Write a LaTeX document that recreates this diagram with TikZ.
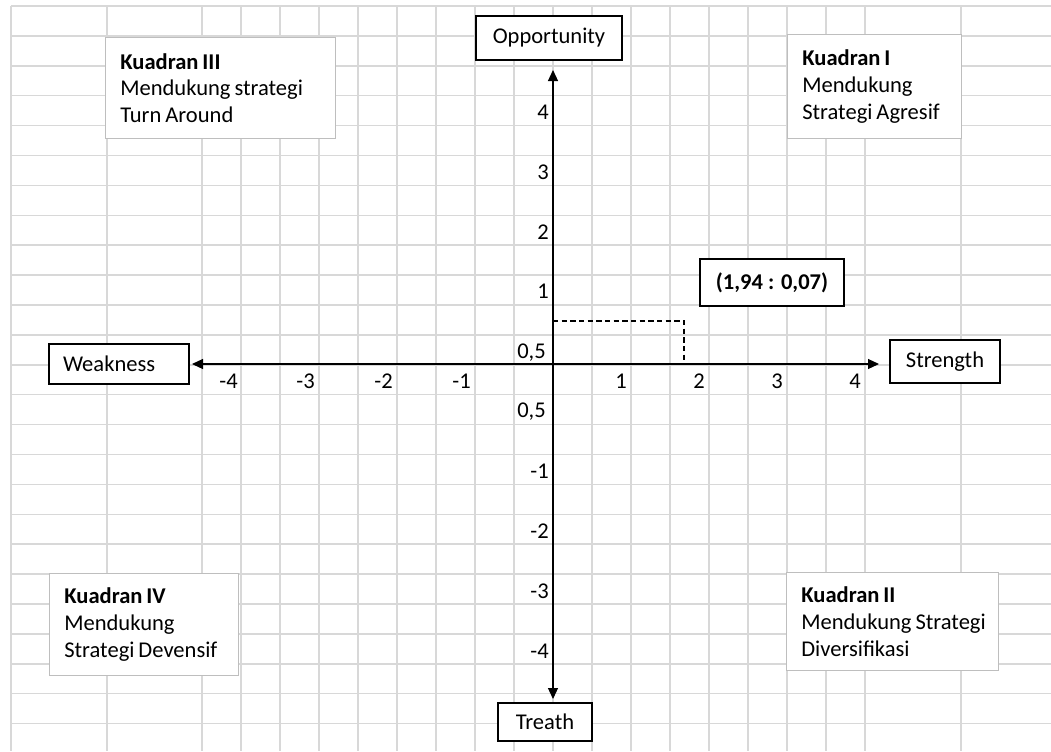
\documentclass[tikz,border=0pt]{standalone}
\usepackage{fontspec}
\setmainfont{Carlito}
\usetikzlibrary{arrows.meta}
\definecolor{gridgray}{RGB}{216,216,216}
\definecolor{boxgray}{RGB}{190,190,190}
\newcommand{\diagfont}{\fontsize{16.9}{20}\selectfont}
\newcommand{\tightsp}{\spaceskip=3pt\relax\xspaceskip=3pt\relax}
\begin{document}
\begin{tikzpicture}[x=0.75pt,y=-0.75pt,
  every node/.style={font=\diagfont},
  gridline/.style={draw=gridgray,line width=1.1pt},
  axbox/.style={draw=black,line width=1.5pt,fill=white,inner sep=0pt},
  qbox/.style={draw=boxgray,line width=1pt,fill=white,anchor=north west,align=left,inner xsep=11pt,inner ysep=0pt},
  tick/.style={inner sep=0pt,anchor=base east},
  axis/.style={draw=black,line width=0.9pt,{Triangle[length=8.25pt,width=7.5pt]}-{Triangle[length=8.25pt,width=7.5pt]}},
  guide/.style={draw=black,line width=0.9pt,dash pattern=on 4pt off 2.5pt}]
\useasboundingbox (0,0) rectangle (1051,751);
\fill[white] (0,0) rectangle (1051,751);
% grid
\foreach \x in {11,107,202,241,...,865,961}
  \draw[gridline] (\x,6) -- (\x,751);
\foreach \k in {0,...,24}
  \draw[gridline] (11,{6+29.9*\k}) -- (1051,{6+29.9*\k});
% quadrant boxes
\node[qbox,text width=150.5pt,minimum height=75.75pt] (q3) at (105,37)
  {\tightsp\mbox{\textbf{Kuadran III}}\\\mbox{Mendukung strategi}\\\mbox{Turn Around}};
\node[qbox,text width=108.5pt,minimum height=78pt] (q1) at (787,34)
  {\tightsp\mbox{\textbf{Kuadran I}}\\\mbox{Mendukung}\\\mbox{Strategi Agresif}};
\node[qbox,text width=119.75pt,minimum height=76.5pt] (q4) at (49,573)
  {\tightsp\mbox{\textbf{Kuadran IV}}\\\mbox{Mendukung}\\\mbox{Strategi Devensif}};
\node[qbox,text width=137pt,minimum height=73.5pt] (q2) at (786,572)
  {\tightsp\mbox{\textbf{Kuadran II}}\\\mbox{Mendukung Strategi}\\\mbox{Diversifikasi}};
% axis label boxes
\node[axbox,anchor=west,text width=84pt,inner xsep=10.5pt,align=left,minimum height=30pt] (weak) at (48,364) {Weakness};
\node[axbox,minimum width=82.5pt,minimum height=32.25pt] (strength) at (945,361.5) {Strength};
\node[axbox,minimum width=109.5pt,minimum height=33pt] (opp) at (549,38) {Opportunity};
\node[axbox,minimum width=70.5pt,minimum height=28.5pt] (treath) at (545,722) {Treath};
\node[axbox,minimum width=108pt,minimum height=35.25pt] (pt) at (772,282.5) {\textbf{(1,94 : 0,07)}};
% axes
\coordinate (xl) at (192,364);
\coordinate (xr) at (879,364);
\coordinate (yt) at (553,70);
\coordinate (yb) at (553,699);
\draw[axis] (xl) -- (xr);
\draw[axis] (yt) -- (yb);
% dashed guide
\coordinate (gy) at (553,321);
\coordinate (gc) at (684,321);
\coordinate (gx) at (684,364);
\draw[guide] (gy) -- (gc) -- (gx);
% y ticks
\node[tick] (y4) at (549,119) {4};
\node[tick] (y3) at (549,179) {3};
\node[tick] (y2) at (549,239) {2};
\node[tick] (y1) at (549,298) {1};
\node[tick] (y05a) at (546,358) {0,5};
\node[tick] (y05b) at (546,417) {0,5};
\node[tick] (ym1) at (549,478) {-1};
\node[tick] (ym2) at (549,538) {-2};
\node[tick] (ym3) at (549,598) {-3};
\node[tick] (ym4) at (549,658) {-4};
% x ticks
\node[tick] (xm4) at (238,388) {-4};
\node[tick] (xm3) at (315,388) {-3};
\node[tick] (xm2) at (393,388) {-2};
\node[tick] (xm1) at (471,388) {-1};
\node[tick] (x1) at (627,388) {1};
\node[tick] (x2) at (705,388) {2};
\node[tick] (x3) at (783,388) {3};
\node[tick] (x4) at (861,388) {4};
\end{tikzpicture}
\end{document}
